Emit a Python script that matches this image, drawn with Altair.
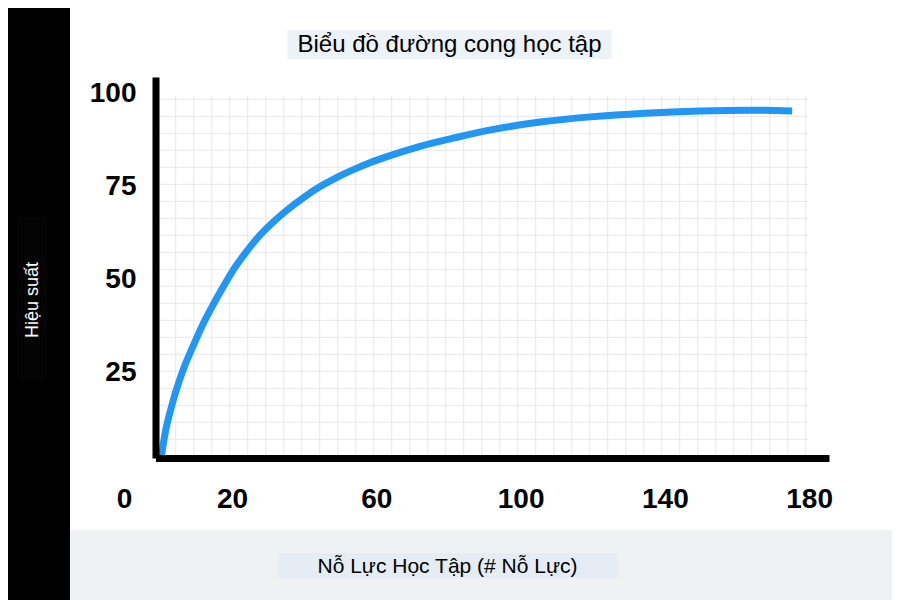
import altair as alt
import pandas as pd

# ---- data ----
effort = [0, 1.4, 2.8, 4.7, 6.9, 9.2, 11.9, 14.7, 17.5, 20.2, 23.6, 26.9, 30.5, 35.2,
          39.7, 44.4, 49.1, 53.5, 58.2, 63.8, 72.1, 81.8, 92.9, 105.4, 119.3, 134.5,
          149.8, 163.6, 175.3]
performance = [0, 8.7, 14.5, 20.9, 27.0, 32.2, 38.0, 43.2, 48.0, 52.4, 57.0, 61.0, 64.6, 68.6,
               71.9, 74.9, 77.4, 79.4, 81.3, 83.2, 85.7, 88.0, 90.3, 92.2, 93.6, 94.6,
               95.2, 95.4, 95.2]
x_tick_values = [0, 20, 60, 100, 140, 180]
y_tick_values = [25, 50, 75, 100]
title_text = "Biểu đồ đường cong học tập"
x_title = "Nỗ Lực Học Tập (# Nỗ Lực)"
y_title = "Hiệu suất"

FONT = "Liberation Sans"
W, H = 673.5, 381

df = pd.DataFrame({"effort": effort, "performance": performance})
one = pd.DataFrame({"a": [0]})


def deco_rect(x, x2, y, y2, color):
    return alt.Chart(one).mark_rect(color=color).encode(
        x=alt.value(x), x2=alt.value(x2), y=alt.value(y), y2=alt.value(y2)
    )


def deco_text(txt, x, y, size, color="black", angle=0):
    kw = dict(text=txt, font=FONT, fontSize=size, color=color,
              align="center", baseline="middle")
    if angle:
        kw["angle"] = angle
    return alt.Chart(one).mark_text(**kw).encode(x=alt.value(x), y=alt.value(y))


# background bands / boxes
black_band = deco_rect(-170, -85.5, -100, 700, "black")
ytitle_box = deco_rect(-138.5, -108.5, 140, 303, "#040404")
gray_band = deco_rect(-85.5, 800, 453, 700, "#eff1f3")
title_box = deco_rect(131.8, 456.2, -47, -17.7, "#edf2f8")
xtitle_box = deco_rect(122.5, 462.5, 476, 501, "#e5ecf4")

# fine background grid (own pixel-like scales)
gx_scale = alt.Scale(domain=[-0.1222, 37.294], nice=False, zero=False)
gy_scale = alt.Scale(domain=[-0.1, 22.312], nice=False, zero=False)
vgrid = alt.Chart(pd.DataFrame({"gx": list(range(37))})).transform_calculate(
    y0="0", y1="21.19"
).mark_rule(color="#e8e8e8", strokeWidth=1).encode(
    x=alt.X("gx:Q", scale=gx_scale, axis=None),
    y=alt.Y("y0:Q", scale=gy_scale, axis=None),
    y2="y1:Q",
)
hgrid = alt.Chart(pd.DataFrame({"gy": list(range(22))})).transform_calculate(
    x0="0", x1="36.13"
).mark_rule(color="#e8e8e8", strokeWidth=1).encode(
    y=alt.Y("gy:Q", scale=gy_scale, axis=None),
    x=alt.X("x0:Q", scale=gx_scale, axis=None),
    x2="x1:Q",
)
grid = alt.layer(vgrid, hgrid)

# main curve
line = alt.Chart(df).mark_line(
    color="#2196F3", strokeWidth=7, interpolate="monotone", clip=True
).encode(
    x=alt.X(
        "effort:Q",
        scale=alt.Scale(domain=[-1.25, 185.52], nice=False, zero=False),
        axis=alt.Axis(
            values=x_tick_values, title=None, grid=False, ticks=False, tickSize=0,
            domainColor="black", domainWidth=7,
            labelFont=FONT, labelFontSize=28, labelFontWeight="bold", labelColor="black",
            labelPadding=41, labelBaseline="middle", labelFlush=False, labelOverlap=False,
            labelOffset={"condition": {"test": "datum.value === 0", "value": -36}, "value": 0},
            zindex=1,
        ),
    ),
    y=alt.Y(
        "performance:Q",
        scale=alt.Scale(domain=[2.14, 104.29], nice=False, zero=False),
        axis=alt.Axis(
            values=y_tick_values, title=None, grid=False, ticks=False, tickSize=0,
            domainColor="black", domainWidth=7,
            labelFont=FONT, labelFontSize=28, labelFontWeight="bold", labelColor="black",
            labelPadding=19.5, labelAlign="right", labelBaseline="middle",
            labelFlush=False, labelOverlap=False, zindex=1,
        ),
    ),
)

title_mark = deco_text(title_text, 294, -32, 24)
xtitle_mark = deco_text(x_title, 292, 490, 21)
ytitle_mark = deco_text(y_title, -122.5, 223, 18, color="white", angle=270)

chart = alt.layer(
    black_band, ytitle_box, gray_band, title_box, xtitle_box,
    grid, line, title_mark, xtitle_mark, ytitle_mark,
).resolve_scale(x="independent", y="independent").properties(
    width=W, height=H,
    padding={"left": 147.5, "top": 69, "right": 63, "bottom": 142},
    autosize=alt.AutoSizeParams(type="none"),
    background="white",
).configure_view(stroke=None)

chart.save("out.html", embed_options={"renderer": "svg", "actions": False})
